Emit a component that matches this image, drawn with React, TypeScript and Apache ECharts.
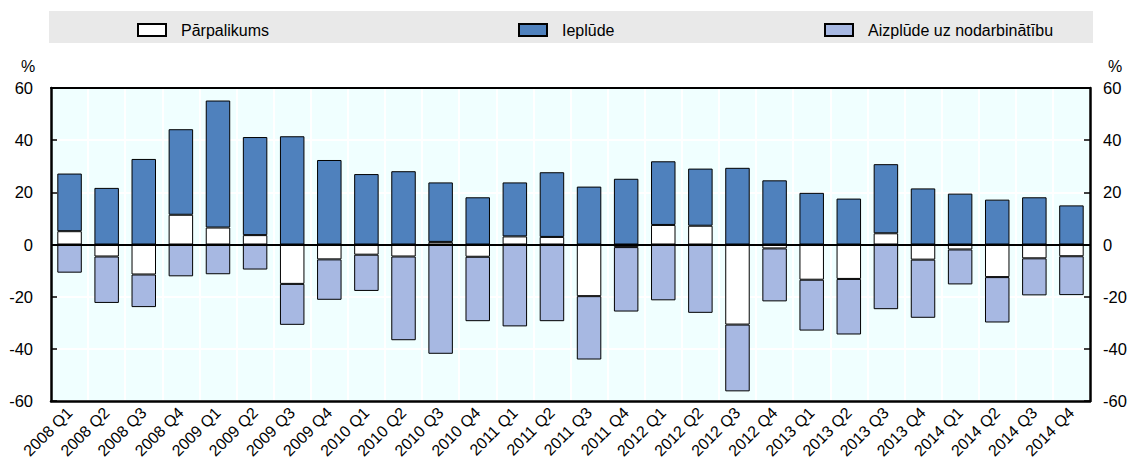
import React, { useEffect, useRef } from "react";
import * as echarts from "echarts";

const categories = [
  "2008 Q1", "2008 Q2", "2008 Q3", "2008 Q4",
  "2009 Q1", "2009 Q2", "2009 Q3", "2009 Q4",
  "2010 Q1", "2010 Q2", "2010 Q3", "2010 Q4",
  "2011 Q1", "2011 Q2", "2011 Q3", "2011 Q4",
  "2012 Q1", "2012 Q2", "2012 Q3", "2012 Q4",
  "2013 Q1", "2013 Q2", "2013 Q3", "2013 Q4",
  "2014 Q1", "2014 Q2", "2014 Q3", "2014 Q4",
];

// Pārpalikums (surplus), signed
const surplus = [
  5.1, -4.6, -11.5, 11.4,
  6.5, 3.6, -15.1, -5.7,
  -3.9, -4.6, 1.0, -4.7,
  3.1, 2.9, -19.8, -1.0,
  7.5, 7.2, -30.7, -1.5,
  -13.5, -13.2, 4.3, -5.8,
  -1.9, -12.5, -5.3, -4.5,
];

// Ieplūde (inflow) segment
const inflow = [
  22.1, 21.7, 32.8, 32.8,
  48.7, 37.6, 41.5, 32.4,
  27.0, 28.1, 22.8, 18.1,
  20.7, 24.8, 22.2, 25.2,
  24.4, 21.9, 29.4, 24.6,
  19.8, 17.6, 26.5, 21.5,
  19.5, 17.2, 18.1, 15.0,
];

// Aizplūde uz nodarbinātību (outflow to employment) segment
const outflow = [
  -10.8, -17.8, -12.5, -12.2,
  -11.4, -9.6, -15.7, -15.5,
  -13.9, -32.1, -41.9, -24.7,
  -31.4, -29.4, -24.3, -24.7,
  -21.4, -26.2, -25.6, -20.3,
  -19.5, -21.3, -24.8, -22.3,
  -13.4, -17.4, -14.2, -14.9,
];

const seriesNames = ["Pārpalikums", "Ieplūde", "Aizplūde uz nodarbinātību"];
const seriesColors = ["#ffffff", "#4f81bd", "#a7b8e2"];

const FONT = "'Liberation Sans', Arial, sans-serif";

export default function App() {
  const ref = useRef<HTMLDivElement>(null);

  useEffect(() => {
    document.body.style.margin = "0";
    if (!ref.current) return;
    const chart = echarts.init(ref.current, null, { renderer: "svg" });
    const values = [surplus, inflow, outflow];

    const legendLefts = [137, 518, 824];

    const yAxisCommon = {
      type: "value" as const,
      min: -60,
      max: 60,
      interval: 20,
      axisLine: { show: true, lineStyle: { color: "#000", width: 2.5 } },
      axisTick: { show: true, inside: true, length: 6, lineStyle: { color: "#000", width: 1.5 } },
    };

    chart.setOption({
      animation: false,
      textStyle: { fontFamily: FONT },
      graphic: [
        {
          type: "rect",
          shape: { x: 49, y: 11, width: 1044, height: 32 },
          style: { fill: "#e9e9e9" },
          z: -10,
          silent: true,
        },
        {
          type: "text",
          x: 28,
          y: 66,
          style: { text: "%", fontSize: 16, fontFamily: FONT, fill: "#000", align: "center", verticalAlign: "middle" },
        },
        {
          type: "text",
          x: 1115,
          y: 66,
          style: { text: "%", fontSize: 16, fontFamily: FONT, fill: "#000", align: "center", verticalAlign: "middle" },
        },
      ],
      legend: seriesNames.map((name, i) => ({
        data: [name],
        left: legendLefts[i],
        top: 20,
        padding: 0,
        icon: "rect",
        itemWidth: 28,
        itemHeight: 12,
        selectedMode: false,
        textStyle: { fontSize: 16, fontFamily: FONT, color: "#000", padding: [0, 0, 0, 10], lineHeight: 20 },
      })),
      grid: {
        left: 51,
        top: 88,
        width: 1039,
        height: 313,
        show: true,
        backgroundColor: "#f0ffff",
        borderWidth: 0,
        containLabel: false,
        outerBoundsMode: "none",
      },
      xAxis: [
        {
          type: "category",
          data: categories,
          position: "bottom",
          axisLine: { show: true, onZero: false, lineStyle: { color: "#000", width: 2.5 } },
          axisTick: { show: false },
          splitLine: { show: true, interval: 0, lineStyle: { color: "#ffffff", width: 2 } },
          axisLabel: {
            interval: 0,
            rotate: 45,
            margin: 9,
            fontSize: 16,
            fontFamily: FONT,
            color: "#000",
          },
        },
        {
          type: "category",
          data: categories,
          position: "top",
          axisLine: { show: true, onZero: false, lineStyle: { color: "#000", width: 2 } },
          axisTick: { show: false },
          axisLabel: { show: false },
          splitLine: { show: false },
        },
      ],
      yAxis: [
        {
          ...yAxisCommon,
          position: "left",
          splitLine: { show: true, lineStyle: { color: "#ffffff", width: 2 } },
          axisLabel: { fontSize: 16.5, fontFamily: FONT, color: "#000", margin: 18 },
        },
        {
          ...yAxisCommon,
          position: "right",
          splitLine: { show: false },
          axisLabel: { fontSize: 16.5, fontFamily: FONT, color: "#000", margin: 13 },
        },
      ],
      series: seriesNames.map((name, i) => ({
        name,
        type: "bar",
        stack: "total",
        data: values[i],
        barWidth: "66%",
        itemStyle: { color: seriesColors[i], borderColor: "#000", borderWidth: 1 },
        ...(i === 2
          ? {
              markLine: {
                silent: true,
                symbol: ["none", "none"],
                label: { show: false },
                lineStyle: { color: "#000", width: 2, type: "solid" },
                data: [{ yAxis: 0 }],
                z: 10,
              },
            }
          : {}),
      })),
    });

    return () => chart.dispose();
  }, []);

  return <div ref={ref} style={{ width: 1133, height: 461 }} />;
}
